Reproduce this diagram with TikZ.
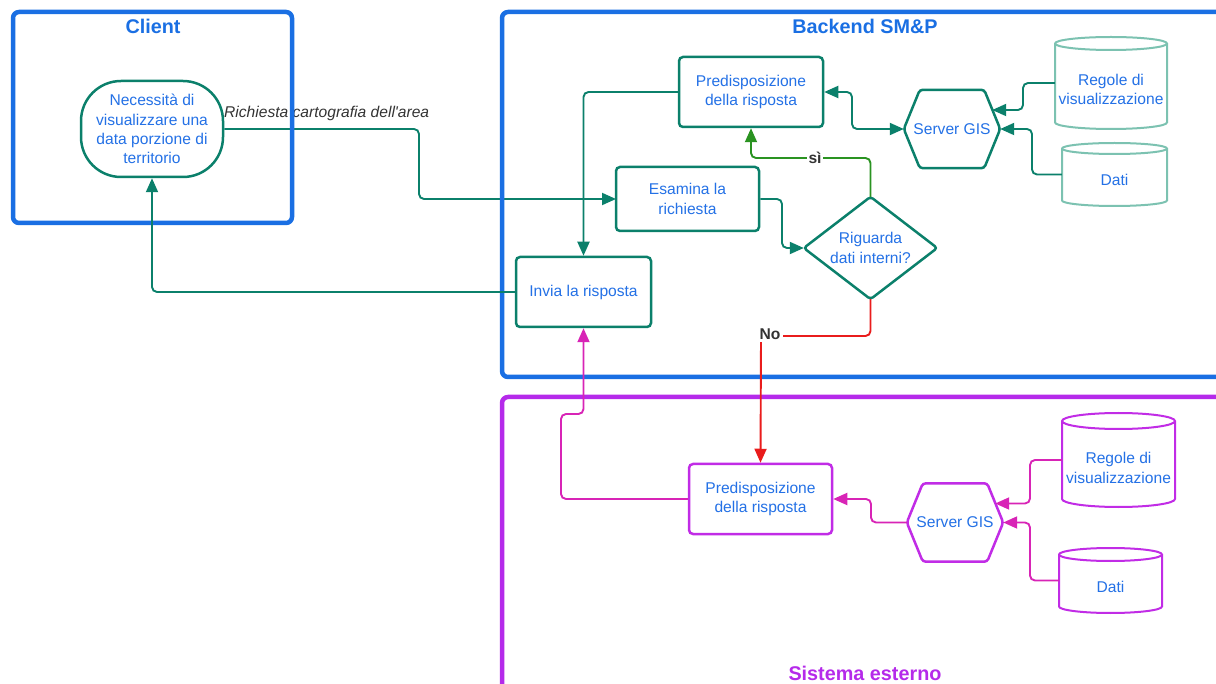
\documentclass[tikz,border=0pt]{standalone}
\usepackage{fontspec}
\setmainfont{Liberation Sans}[Ligatures=TeXOff]
\usetikzlibrary{arrows.meta,calc}
\definecolor{cblue}{HTML}{1A6FE3}
\definecolor{tblue}{HTML}{2471E6}
\definecolor{cpurple}{HTML}{B52AEA}
\definecolor{teal1}{HTML}{0B806B}
\definecolor{tealL}{HTML}{7CC2B1}
\definecolor{mag}{HTML}{D824B6}
\definecolor{npurple}{HTML}{C12CE6}
\definecolor{cred}{HTML}{E91C1C}
\definecolor{cgreen}{HTML}{2A9321}
\definecolor{dgray}{HTML}{333333}
\tikzset{
  container/.style={line width=4.5pt, rounded corners=6pt},
  ttl/.style={font=\fontsize{19.8}{22}\selectfont\bfseries},
  ntext/.style={text=tblue, font=\fontsize{15.6}{19.3}\selectfont, align=center},
  procbox/.style={ntext, draw, line width=2.5pt, rounded corners=4pt, fill=white},
  ghost/.style={ntext, inner sep=0pt},
  edge/.style={line width=1.9pt, rounded corners=5pt, -{Triangle[length=14pt,width=12pt]}},
  lbl/.style={fill=white, inner sep=1.5pt, text=dgray, font=\fontsize{15.6}{17}\selectfont\bfseries},
}
\newcommand{\mycyl}[8]{% name, x, y, w, h, ry, color, text
  \pgfmathsetmacro{\cxl}{#2-#4/2}\pgfmathsetmacro{\cxr}{#2+#4/2}
  \pgfmathsetmacro{\cyt}{#3+#5/2-#6}\pgfmathsetmacro{\cyb}{#3-#5/2+#6}
  \pgfmathsetmacro{\crx}{#4/2}
  \draw[#7, line width=2pt, fill=white] (\cxl,\cyt) -- (\cxl,\cyb) arc[start angle=180, end angle=360, x radius=\crx pt, y radius=#6 pt] -- (\cxr,\cyt) arc[start angle=0, end angle=180, x radius=\crx pt, y radius=#6 pt] -- cycle;
  \draw[#7, line width=2pt] (\cxl,\cyt) arc[start angle=180, end angle=360, x radius=\crx pt, y radius=#6 pt];
  \node[ghost, minimum width=#4pt, minimum height=#5pt] (#1) at (#2,#3) {};
  \node[ghost] at (#2,#3-#6) {#8};
}
\newcommand{\myhex}[4]{% name, x, y, color
  \node[ghost, minimum width=96pt, minimum height=78pt] (#1) at (#2,#3) {};
  \draw[#4, line width=2.5pt, rounded corners=3pt, fill=white] (#1.west) -- ([xshift=16pt]#1.north west) -- ([xshift=-16pt]#1.north east) -- (#1.east) -- ([xshift=-16pt]#1.south east) -- ([xshift=16pt]#1.south west) -- cycle;
  \node[ghost] at (#2,#3) {Server GIS};
}
\begin{document}
\begin{tikzpicture}[x=1pt,y=1pt]
\useasboundingbox (0,0) rectangle (1216,-684);
\clip (0,0) rectangle (1216,-684);

\node[procbox, draw=teal1, rounded corners=40pt, minimum width=142pt, minimum height=96pt, inner sep=1pt] (client) at (152,-129) {Necessità di\\visualizzare una\\data porzione di\\territorio};

% client edge and its label, under the containers
\draw[edge, teal1] (client.east) -- (419,-129) |- (616,-199);
\node[anchor=west, text=dgray, font=\fontsize{15.6}{17}\selectfont\itshape, inner sep=0pt] (rlab) at (224,-113) {Richiesta cartografia dell'area};

% containers
\draw[container, cblue] (13,-12) rectangle (292,-223);
\draw[container, cblue] (502,-12) rectangle (1226,-377);
\draw[container, cpurple] (502,-397) rectangle (1226,-700);
\node[ttl, text=cblue] (tclient) at (153,-26) {Client};
\node[ttl, text=cblue] (tback) at (865,-26) {Backend SM\&P};
\node[ttl, text=cpurple] (tsis) at (865,-673) {Sistema esterno};

% backend nodes
\node[procbox, draw=teal1, minimum width=144pt, minimum height=70pt] (pred1) at (751,-92) {Predisposizione\\della risposta};
\node[procbox, draw=teal1, minimum width=143pt, minimum height=64pt] (esam) at (687.5,-199) {Esamina la\\richiesta};
\node[procbox, draw=teal1, minimum width=135pt, minimum height=70pt] (invia) at (583.5,-292) {Invia la risposta};
\node[ghost, minimum width=133pt, minimum height=102pt] (dia) at (870.5,-248) {};
\draw[teal1, line width=2.5pt, rounded corners=3pt, fill=white] (dia.west) -- (dia.north) -- (dia.east) -- (dia.south) -- cycle;
\node[ghost] at (870.5,-248) {Riguarda\\dati interni?};
\myhex{gis1}{952}{-129}{teal1}
\mycyl{reg1}{1111}{-83}{112}{92}{6.5}{tealL}{Regole di\\visualizzazione}
\mycyl{dat1}{1114.5}{-174.5}{105}{63}{5.5}{tealL}{Dati}

% sistema esterno nodes
\node[procbox, draw=npurple, minimum width=143pt, minimum height=70pt] (pred2) at (760.5,-499) {Predisposizione\\della risposta};
\myhex{gis2}{955}{-522.5}{npurple}
\mycyl{reg2}{1118.5}{-460}{113}{94}{8}{npurple}{Regole di\\visualizzazione}
\mycyl{dat2}{1110.5}{-580.5}{103}{65}{6.5}{npurple}{Dati}

% backend edges
\draw[edge, teal1] (pred1.west) -| (invia.north);
\draw[edge, teal1] (invia.west) -| (client.south);
\draw[edge, teal1] (esam.east) -- (782,-199) |- (dia.west);
\draw[edge, cgreen] (dia.north) |- (751,-158) -- (pred1.south);
\node[lbl] (si) at (815,-158) {sì};
\draw[edge, teal1, {Triangle[length=14pt,width=12pt]}-{Triangle[length=14pt,width=12pt]}] (pred1.east) -- (852,-92) |- (gis1.west);
\draw[edge, teal1] (reg1.west) -- (1023,-83) |- ([xshift=-8pt,yshift=19pt]gis1.east);
\draw[edge, teal1] (dat1.west) -- (1032,-174.5) |- (gis1.east);
\draw[edge, cred] (dia.south) |- (761,-336) -- (pred2.north);
\node[lbl, inner sep=3pt] (no) at (770,-334) {No};

% sistema edges
\draw[edge, mag] (gis2.west) -- (871,-522.5) |- (pred2.east);
\draw[edge, mag] (reg2.west) -- (1030,-460) |- ([xshift=-8pt,yshift=19pt]gis2.east);
\draw[edge, mag] (dat2.west) -- (1030,-580.5) |- (gis2.east);
\draw[edge, mag] (pred2.west) -| (561,-414) -| (invia.south);
\end{tikzpicture}
\end{document}
